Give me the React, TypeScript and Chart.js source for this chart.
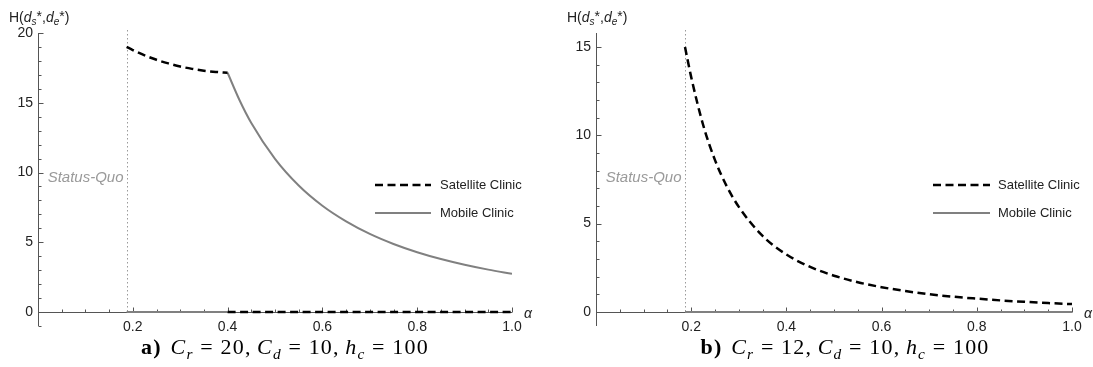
import React, { useEffect, useRef } from "react";
import { Chart, registerables } from "chart.js";

Chart.register(...registerables);

const FONT = "'Liberation Sans', Arial, sans-serif";
const AXIS_COLOR = "#555555";
const TEXT_COLOR = "#222222";
const SAT_COLOR = "#000000";
const MOB_COLOR = "#808080";
const SQ_COLOR = "#9a9a9a";

const statusQuoAlpha = 0.187;
const xTickValues = [0.2, 0.4, 0.6, 0.8, 1.0];
const seriesLabels = ["Satellite Clinic", "Mobile Clinic"];

// Panel a: C_r = 20
const aYTicks = [0, 5, 10, 15, 20];
const aSatAlpha = [0.187, 0.2, 0.225, 0.25, 0.275, 0.3, 0.325, 0.35, 0.375, 0.4];
const aSatValues = [19.0, 18.78, 18.4, 18.08, 17.82, 17.6, 17.43, 17.3, 17.21, 17.15];
const aSatZeroAlpha = [0.4, 1.0];
const aMobZeroAlpha = [0.187, 0.4];
const aMobAlpha = [0.4, 0.425, 0.45, 0.5, 0.55, 0.6, 0.65, 0.7, 0.75, 0.8, 0.85, 0.9, 0.95, 1.0];
const aMobValues = [17.15, 15.2, 13.55, 10.98, 9.07, 7.62, 6.5, 5.6, 4.88, 4.29, 3.8, 3.39, 3.04, 2.74];

// Panel b: C_r = 12
const bYTicks = [0, 5, 10, 15];
const bSatAlpha = [0.187, 0.2, 0.225, 0.25, 0.275, 0.3, 0.35, 0.4, 0.45, 0.5, 0.55, 0.6, 0.65, 0.7, 0.75, 0.8, 0.85, 0.9, 0.95, 1.0];
const bSatValues = [15.0, 13.3, 10.6, 8.6, 7.1, 5.95, 4.3, 3.25, 2.55, 2.05, 1.68, 1.4, 1.18, 1.0, 0.86, 0.75, 0.65, 0.57, 0.5, 0.44];
const bMobZeroAlpha = [0.187, 1.0];

type Pt = { x: number; y: number | null };
const toPoints = (xs: number[], ys: number[]): Pt[] => xs.map((x, i) => ({ x, y: ys[i] }));
const zeros = (xs: number[]) => xs.map(() => 0);

interface PanelCfg {
  left: number;
  width: number;
  height: number;
  yMin: number;
  yMax: number;
  yTicks: number[];
  yMinorFrom: number;
  yMinorTo: number;
  axisWidth: number;
  padRight: number;
  satellite: Pt[];
  mobile: Pt[];
  statusQuoY: number;
  legendX: [number, number, number];
  legendY: [number, number];
  hLabelX: number;
}

const panelA: PanelCfg = {
  left: 0,
  width: 546,
  height: 340,
  yMin: -1,
  yMax: 20,
  yTicks: aYTicks,
  yMinorFrom: -1,
  yMinorTo: 20,
  axisWidth: 38,
  padRight: 34,
  satellite: [...toPoints(aSatAlpha, aSatValues), { x: 0.4, y: null }, ...toPoints(aSatZeroAlpha, zeros(aSatZeroAlpha))],
  mobile: [...toPoints(aMobZeroAlpha, zeros(aMobZeroAlpha)), { x: 0.4, y: null }, ...toPoints(aMobAlpha, aMobValues)],
  statusQuoY: 9.6,
  legendX: [375, 431, 440],
  legendY: [185, 213],
  hLabelX: 9,
};

const panelB: PanelCfg = {
  left: 546,
  width: 547,
  height: 340,
  yMin: -0.8,
  yMax: 15.8,
  yTicks: bYTicks,
  yMinorFrom: 0,
  yMinorTo: 15,
  axisWidth: 50,
  padRight: 21,
  satellite: toPoints(bSatAlpha, bSatValues),
  mobile: toPoints(bMobZeroAlpha, zeros(bMobZeroAlpha)),
  statusQuoY: 7.6,
  legendX: [387, 444, 452],
  legendY: [185, 213],
  hLabelX: 21,
};

function decorations(cfg: PanelCfg) {
  return {
    id: "panelDecorations",
    beforeDatasetsDraw(chart: any) {
      const { ctx, chartArea, scales } = chart;
      const xs = scales.x;
      const ys = scales.y;
      const x0 = Math.round(xs.getPixelForValue(0)) + 0.5;
      const y0 = Math.round(ys.getPixelForValue(0)) + 0.5;
      const sq = Math.round(xs.getPixelForValue(statusQuoAlpha)) + 0.5;
      ctx.save();

      // status-quo marker
      ctx.strokeStyle = SQ_COLOR;
      ctx.lineWidth = 1;
      ctx.setLineDash([1.5, 2.5]);
      ctx.beginPath();
      ctx.moveTo(sq, chartArea.top - 3);
      ctx.lineTo(sq, y0);
      ctx.stroke();
      ctx.setLineDash([]);

      // axes crossing at the origin
      ctx.strokeStyle = AXIS_COLOR;
      ctx.lineWidth = 1;
      ctx.beginPath();
      ctx.moveTo(x0, chartArea.top);
      ctx.lineTo(x0, chartArea.bottom);
      ctx.moveTo(x0, y0);
      ctx.lineTo(chartArea.right, y0);

      // inward tick marks
      for (let v = cfg.yMinorFrom; v <= cfg.yMinorTo; v += 1) {
        const major = cfg.yTicks.includes(v);
        const p = Math.round(ys.getPixelForValue(v)) + 0.5;
        ctx.moveTo(x0, p);
        ctx.lineTo(x0 + (major ? 5 : 3), p);
      }
      for (let i = 1; i <= 20; i++) {
        const v = i * 0.05;
        const major = i % 4 === 0;
        const p = Math.round(xs.getPixelForValue(v)) + 0.5;
        ctx.moveTo(p, y0);
        ctx.lineTo(p, y0 - (major ? 5 : 3));
      }
      ctx.stroke();

      ctx.font = `italic 15px ${FONT}`;
      ctx.fillStyle = SQ_COLOR;
      ctx.textAlign = "right";
      ctx.textBaseline = "middle";
      ctx.fillText("Status-Quo", sq - 4, ys.getPixelForValue(cfg.statusQuoY));
      ctx.restore();
    },
    afterDraw(chart: any) {
      const { ctx, chartArea, scales } = chart;
      const y0 = scales.y.getPixelForValue(0);
      ctx.save();

      // legend
      const [lx0, lx1, tx] = cfg.legendX;
      chart.data.datasets.forEach((ds: any, i: number) => {
        const ly = cfg.legendY[i];
        ctx.strokeStyle = ds.borderColor;
        ctx.lineWidth = ds.borderWidth;
        ctx.setLineDash(ds.borderDash || []);
        ctx.beginPath();
        ctx.moveTo(lx0, ly);
        ctx.lineTo(lx1, ly);
        ctx.stroke();
        ctx.setLineDash([]);
        ctx.font = `13px ${FONT}`;
        ctx.fillStyle = TEXT_COLOR;
        ctx.textAlign = "left";
        ctx.textBaseline = "middle";
        ctx.fillText(ds.label, tx, ly);
      });

      // axis label alpha
      ctx.font = `italic 14px ${FONT}`;
      ctx.fillStyle = TEXT_COLOR;
      ctx.textAlign = "left";
      ctx.textBaseline = "middle";
      ctx.fillText("α", chartArea.right + 12, y0 + 2);

      // vertical axis label H(d_s*, d_e*)
      const base = 22;
      let x = cfg.hLabelX;
      const put = (s: string, font: string, dy: number) => {
        ctx.font = font;
        ctx.textBaseline = "alphabetic";
        ctx.fillText(s, x, base + dy);
        x += ctx.measureText(s).width;
      };
      const reg = `14px ${FONT}`;
      const it = `italic 14px ${FONT}`;
      const sub = `italic 10px ${FONT}`;
      put("H(", reg, 0);
      put("d", it, 0);
      put("s", sub, 3);
      put("*", reg, -1);
      put(",", reg, 0);
      put("d", it, 0);
      put("e", sub, 3);
      put("*", reg, -1);
      put(")", reg, 0);
      ctx.restore();
    },
  };
}

function Panel({ cfg }: { cfg: PanelCfg }) {
  const ref = useRef<HTMLCanvasElement | null>(null);
  useEffect(() => {
    if (!ref.current) return;
    const tickFont = { family: FONT, size: 14 };
    const chart = new Chart(ref.current, {
      type: "line",
      data: {
        datasets: [
          {
            label: seriesLabels[0],
            data: cfg.satellite as any,
            borderColor: SAT_COLOR,
            borderWidth: 2.5,
            borderDash: [8, 4.5],
            pointRadius: 0,
            cubicInterpolationMode: "monotone",
            spanGaps: false,
            fill: false,
            order: 0,
          },
          {
            label: seriesLabels[1],
            data: cfg.mobile as any,
            borderColor: MOB_COLOR,
            borderWidth: 2,
            pointRadius: 0,
            cubicInterpolationMode: "monotone",
            spanGaps: false,
            fill: false,
            order: 1,
          },
        ],
      },
      options: {
        animation: false,
        responsive: false,
        maintainAspectRatio: false,
        devicePixelRatio: 1,
        events: [],
        layout: { padding: { left: 0, right: cfg.padRight, top: 33, bottom: cfg.height - 326 } },
        plugins: { legend: { display: false }, tooltip: { enabled: false } },
        scales: {
          x: {
            type: "linear",
            min: 0,
            max: 1,
            position: { y: 0 } as any,
            grid: { display: false, drawTicks: false },
            border: { display: false },
            afterBuildTicks: (s: any) => {
              s.ticks = xTickValues.map((value) => ({ value }));
            },
            afterFit: (s: any) => {
              s.height = 0;
            },
            ticks: {
              autoSkip: false,
              maxRotation: 0,
              padding: 7,
              color: TEXT_COLOR,
              font: tickFont,
              callback: (v: any) => Number(v).toFixed(1),
            },
          },
          y: {
            type: "linear",
            position: "left",
            min: cfg.yMin,
            max: cfg.yMax,
            grid: { display: false, drawTicks: false },
            border: { display: false },
            afterBuildTicks: (s: any) => {
              s.ticks = cfg.yTicks.map((value) => ({ value }));
            },
            afterFit: (s: any) => {
              s.width = cfg.axisWidth;
            },
            ticks: {
              padding: 5,
              color: TEXT_COLOR,
              font: tickFont,
              callback: (v: any) => String(v),
            },
          },
        },
      },
      plugins: [decorations(cfg)],
    });
    return () => chart.destroy();
  }, [cfg]);
  return (
    <canvas
      ref={ref}
      width={cfg.width}
      height={cfg.height}
      style={{ position: "absolute", left: cfg.left, top: 0, width: cfg.width, height: cfg.height }}
    />
  );
}

const subStyle: React.CSSProperties = { fontSize: "0.7em", verticalAlign: "-0.3em", lineHeight: 0, fontStyle: "italic" };
const gap = (w: string): React.CSSProperties => ({ display: "inline-block", width: w });

function Caption({ tag, cr, center }: { tag: string; cr: number; center: number }) {
  const Eq = () => (
    <>
      <span style={gap("0.3em")} />=<span style={gap("0.3em")} />
    </>
  );
  const Sep = () => <span style={gap("0.25em")} />;
  return (
    <div
      style={{
        position: "absolute",
        left: center,
        top: 336,
        transform: "translateX(-50%)",
        fontFamily: "'Liberation Serif', 'DejaVu Serif', serif",
        fontSize: 22,
        lineHeight: "22px",
        letterSpacing: "1.2px",
        whiteSpace: "nowrap",
        color: "#000",
      }}
    >
      <b>{tag}</b>
      <span style={gap("0.4em")} />
      <i>C</i>
      <span style={subStyle}>r</span>
      <Eq />
      {cr},<Sep />
      <i>C</i>
      <span style={subStyle}>d</span>
      <Eq />
      10,<Sep />
      <i>h</i>
      <span style={subStyle}>c</span>
      <Eq />
      100
    </div>
  );
}

export default function App() {
  return (
    <div style={{ position: "fixed", left: 0, top: 0, width: 1093, height: 367, background: "#fff", overflow: "hidden" }}>
      <Panel cfg={panelA} />
      <Panel cfg={panelB} />
      <Caption tag="a)" cr={20} center={285} />
      <Caption tag="b)" cr={12} center={845} />
    </div>
  );
}
